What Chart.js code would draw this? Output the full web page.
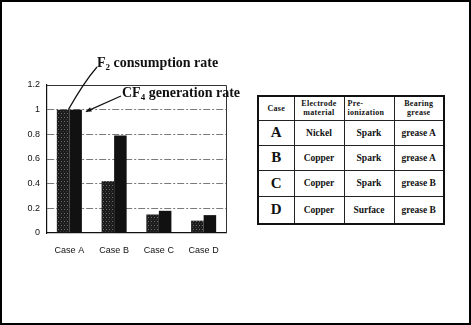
<!DOCTYPE html>
<html lang="en">
<head>
<meta charset="UTF-8" />
<title>F2 consumption and CF4 generation</title>
<style>
  body{margin:0;padding:0;background:#fff;}
  .page{position:relative;width:471px;height:325px;box-sizing:border-box;border:2px solid #000;overflow:hidden;background:#fff;}
  #chartBox{position:absolute;left:-2px;top:38px;width:240px;height:230px;}
  .note{position:absolute;font-family:"Liberation Serif","Times New Roman",serif;font-weight:bold;font-size:14px;line-height:14px;color:#111;white-space:nowrap;}
  .note sub{font-size:9px;vertical-align:-3px;line-height:0;}
  table{position:absolute;left:255px;top:93px;width:186px;height:128px;border-collapse:collapse;border:2px solid #111;
        font-family:"Liberation Serif","Times New Roman",serif;font-weight:bold;color:#111;table-layout:fixed;}
  td{border:1.5px solid #222;text-align:center;padding:0;font-size:9.5px;}
  tr.head td{font-size:8px;line-height:9px;letter-spacing:.3px;}
  td.letter{font-size:15px;}
</style>
<script src="https://cdn.jsdelivr.net/npm/chart.js"></script>
</head>
<body>
<div class="page">
  <div id="chartBox"><canvas id="chart" width="240" height="230"></canvas></div>
  <div class="note" style="left:95px;top:54px;">F<sub>2</sub> consumption rate</div>
  <div class="note" style="left:120px;top:84px;">CF<sub>4</sub> generation rate</div>
  <table id="spec"></table>
</div>

<script>
/* ---- data ---- */
const cases   = ['Case A','Case B','Case C','Case D'];
const f2Rate  = [1.00, 0.42, 0.15, 0.10];   // F2 consumption rate
const cf4Rate = [1.00, 0.79, 0.18, 0.145];  // CF4 generation rate
const yTicks  = [0, 0.2, 0.4, 0.6, 0.8, 1, 1.2];

const tableHead  = ['Case', 'Electrode<br>material', 'Pre-<br>ionization', 'Bearing<br>grease'];
const caseLetter = ['A','B','C','D'];
const electrode  = ['Nickel','Copper','Copper','Copper'];
const preIon     = ['Spark','Spark','Spark','Surface'];
const grease     = ['grease A','grease A','grease B','grease B'];

/* ---- table ---- */
const tbl = document.getElementById('spec');
const colW = [36,50,50,50], rowH = [24,25,25,26,28];
let html = '<colgroup>' + colW.map(w=>`<col style="width:${w}px">`).join('') + '</colgroup>';
html += `<tr class="head" style="height:${rowH[0]}px">` +
  tableHead.map((t,i)=>`<td${i===2?' style="text-align:left;padding-left:3px"':''}>${t}</td>`).join('') + '</tr>';
caseLetter.forEach((c,i)=>{
  html += `<tr style="height:${rowH[i+1]}px"><td class="letter">${c}</td><td>${electrode[i]}</td><td>${preIon[i]}</td><td>${grease[i]}</td></tr>`;
});
tbl.innerHTML = html;

/* ---- stipple fill for the F2 bars ---- */
function stipple(){
  const c = document.createElement('canvas'); c.width = 3; c.height = 4;
  const g = c.getContext('2d');
  g.fillStyle = '#1c1c1c'; g.fillRect(0,0,3,4);
  g.fillStyle = '#6e6e6e'; g.fillRect(1,1,1,1);
  g.fillStyle = '#3a3a3a'; g.fillRect(0,3,1,1);
  return g.createPattern(c,'repeat');
}

/* ---- frame on top/right + leader lines ---- */
const extras = {
  id:'extras',
  afterDatasetsDraw(chart){
    const {ctx, chartArea:a} = chart;
    ctx.save();
    ctx.strokeStyle = '#333'; ctx.lineWidth = 1;
    ctx.beginPath();
    ctx.moveTo(a.left, a.top+0.5); ctx.lineTo(a.right+0.5, a.top+0.5); ctx.lineTo(a.right+0.5, a.bottom);
    ctx.stroke();

    const b0 = chart.getDatasetMeta(0).data[0];
    const b1 = chart.getDatasetMeta(1).data[0];
    ctx.strokeStyle = '#111'; ctx.lineWidth = 1.2;
    // F2 leader, ends where the two bars meet
    const fx = b0.x + b0.width/2 - 1, fy = b0.y;
    ctx.beginPath();
    ctx.moveTo(97, 27);
    ctx.quadraticCurveTo(84, 42, fx, fy);
    ctx.stroke();
    // CF4 arrow
    const tx = b1.x + b1.width/2 + 4, ty = b1.y + 2;
    ctx.beginPath();
    ctx.moveTo(121, 56);
    ctx.lineTo(tx, ty);
    ctx.stroke();
    const ang = Math.atan2(ty-56, tx-121);
    ctx.fillStyle = '#111';
    ctx.beginPath();
    ctx.moveTo(tx, ty);
    ctx.lineTo(tx - 6*Math.cos(ang-0.4), ty - 6*Math.sin(ang-0.4));
    ctx.lineTo(tx - 6*Math.cos(ang+0.4), ty - 6*Math.sin(ang+0.4));
    ctx.closePath(); ctx.fill();
    ctx.restore();
  }
};

const tickFont = {family:'"Liberation Sans Narrow","Liberation Sans",Arial,sans-serif', size:9};

new Chart(document.getElementById('chart'), {
  type:'bar',
  data:{
    labels:cases,
    datasets:[
      {label:'F2 consumption rate', data:f2Rate, backgroundColor:stipple(), borderWidth:0},
      {label:'CF4 generation rate', data:cf4Rate, backgroundColor:'#111', borderWidth:0}
    ]
  },
  options:{
    responsive:false, animation:false,
    layout:{padding:{top:45,right:14,left:0,bottom:0}},
    datasets:{bar:{categoryPercentage:0.56, barPercentage:1.0}},
    plugins:{legend:{display:false}, tooltip:{enabled:false}},
    scales:{
      x:{
        grid:{display:false, drawTicks:false},
        border:{color:'#111', width:1.2},
        ticks:{font:tickFont, color:'#111', padding:12},
        afterFit(s){ s.height = 37; }
      },
      y:{
        min:0, max:1.2,
        afterBuildTicks(s){ s.ticks = yTicks.map(v=>({value:v})); },
        grid:{drawTicks:false,
              color:c => (c.tick.value===0 || c.tick.value===1.2) ? 'rgba(0,0,0,0)' : '#7a7a7a',
              lineWidth:1},
        border:{color:'#111', width:1.2, dash:[7,2,2,2]},
        ticks:{font:tickFont, color:'#111', padding:7, callback:v => String(+v.toFixed(1))},
        afterFit(s){ s.width = 47; }
      }
    }
  },
  plugins:[extras]
});
</script>
</body>
</html>
